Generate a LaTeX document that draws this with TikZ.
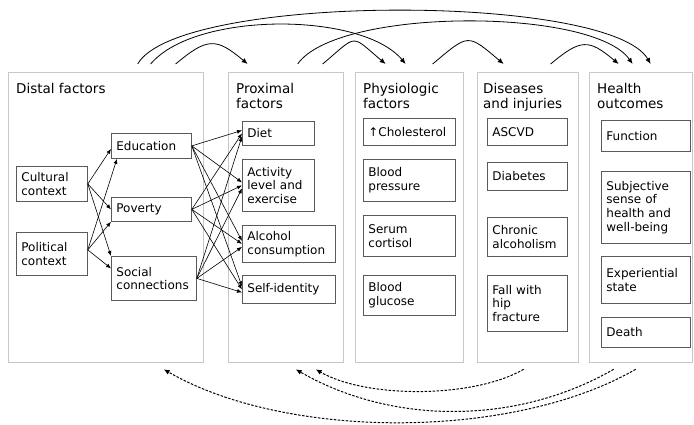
\documentclass[tikz,border=0pt]{standalone}
\usepackage{fontspec}
\setmainfont{DejaVu Sans}
\usetikzlibrary{arrows.meta}

\definecolor{panelgray}{RGB}{200,200,200}
\definecolor{itemgray}{RGB}{90,90,90}
\newcommand{\paneltitlefont}{\fontsize{13.5}{15}\selectfont}
\newcommand{\itemtextfont}{\fontsize{12}{13.6}\selectfont}

\begin{document}
\begin{tikzpicture}[
  x=1pt, y=-1pt,
  panel_box/.style={draw=panelgray, line width=1.3pt, anchor=north west, inner sep=0pt},
  panel_title/.style={anchor=north west, align=left, inner sep=0pt, font=\paneltitlefont},
  item_box/.style={draw=itemgray, line width=0.8pt, anchor=north west, align=left,
    inner xsep=5pt, inner ysep=0pt, font=\itemtextfont},
  link/.style={-{Latex[length=5pt,width=4pt]}, line width=0.6pt},
  causal_arc/.style={-{Latex[length=6pt,width=5pt]}, line width=0.8pt},
  feedback_arc/.style={-{Latex[length=6pt,width=5pt]}, line width=1pt,
    dash pattern=on 2.5pt off 1.5pt}
]
  \useasboundingbox (0,0) rectangle (694,425);

  % Panels
  \node[panel_box, minimum width=195pt, minimum height=290pt] (distal) at (8,72) {};
  \node[panel_box, minimum width=115pt, minimum height=290pt] (prox) at (228,72) {};
  \node[panel_box, minimum width=108pt, minimum height=290pt] (phys) at (355,72) {};
  \node[panel_box, minimum width=101pt, minimum height=290pt] (dis) at (477,72) {};
  \node[panel_box, minimum width=103pt, minimum height=290pt] (health) at (589,72) {};

  \node[panel_title] (distal_t) at (16,83) {Distal factors};
  \node[panel_title] (prox_t) at (236,83) {Proximal\\factors};
  \node[panel_title] (phys_t) at (363,83) {Physiologic\\factors};
  \node[panel_title] (dis_t) at (483,83) {Diseases\\and injuries};
  \node[panel_title] (health_t) at (597,83) {Health\\outcomes};

  % Distal factors
  \node[item_box, text width=61pt, minimum height=35pt] (cult) at (16,166) {Cultural\\context};
  \node[item_box, text width=61pt, minimum height=43pt] (pol) at (16,232) {Political\\context};
  \node[item_box, text width=70pt, minimum height=25pt] (edu) at (111,133) {Education};
  \node[item_box, text width=70pt, minimum height=24pt] (pov) at (111,197) {Poverty};
  \node[item_box, text width=75pt, minimum height=44pt] (soc) at (111,256) {Social\\connections};

  % Proximal factors
  \node[item_box, text width=62pt, minimum height=24pt] (diet) at (242,121) {Diet};
  \node[item_box, text width=62pt, minimum height=52pt] (act) at (242,159) {Activity\\level and\\exercise};
  \node[item_box, text width=83pt, minimum height=37pt] (alc) at (242,225) {Alcohol\\consumption};
  \node[item_box, text width=83pt, minimum height=28pt] (self) at (242,275) {Self-identity};

  % Physiologic factors
  \node[item_box, text width=82pt, minimum height=27pt] (chol) at (363,118) {↑Cholesterol};
  \node[item_box, text width=82pt, minimum height=42pt] (bp) at (363,159) {Blood\\pressure};
  \node[item_box, text width=82pt, minimum height=41pt] (cort) at (363,215) {Serum\\cortisol};
  \node[item_box, text width=82pt, minimum height=40pt] (gluc) at (363,275) {Blood\\glucose};

  % Diseases and injuries
  \node[item_box, text width=70pt, minimum height=27pt] (ascvd) at (487,118) {ASCVD};
  \node[item_box, text width=70pt, minimum height=28pt] (diab) at (487,162) {Diabetes};
  \node[item_box, text width=70pt, minimum height=39pt] (chron) at (487,217) {Chronic\\alcoholism};
  \node[item_box, text width=70pt, minimum height=56pt] (fall) at (487,275) {Fall with\\hip\\fracture};

  % Health outcomes
  \node[item_box, text width=79pt, minimum height=31pt] (func) at (601,120) {Function};
  \node[item_box, text width=79pt, minimum height=72pt] (subj) at (601,171) {Subjective\\sense of\\health and\\well-being};
  \node[item_box, text width=79pt, minimum height=47pt] (exper) at (601,256) {Experiential\\state};
  \node[item_box, text width=79pt, minimum height=30pt] (death) at (601,317) {Death};

  % Links inside distal factors
  \draw[link] (cult.east) -- ([yshift=-3pt]edu.west);
  \draw[link] (cult.east) -- (pov.west);
  \draw[link] (cult.east) -- (soc.north west);
  \draw[link] ([yshift=4pt]pol.east) -- ([xshift=6pt]edu.south west);
  \draw[link] ([yshift=4pt]pol.east) -- (pov.south west);
  \draw[link] ([yshift=4pt]pol.east) -- ([yshift=10pt]soc.west);

  % Distal to proximal links
  \foreach \src/\dy in {edu/3, pov/0, soc/-3}
    \foreach \dst in {diet, act, alc, self}
      \draw[link] (\src.east) -- ([yshift=\dy pt]\dst.west);

  % Arcs between panels
  \draw[causal_arc] ([xshift=69.5pt,yshift=8pt]distal.north)
    to[out=40, in=140, looseness=1.47] ([xshift=-38.5pt,yshift=8pt]prox.north);
  \draw[causal_arc] ([xshift=44.5pt,yshift=8pt]distal.north)
    to[out=50, in=130, looseness=0.69] ([xshift=-4pt,yshift=8pt]phys.north);
  \draw[causal_arc] ([xshift=31.5pt,yshift=8pt]distal.north)
    to[out=60, in=120, looseness=0.41] ([xshift=9.5pt,yshift=8pt]health.north);
  \draw[causal_arc] ([xshift=11.5pt,yshift=8pt]prox.north)
    to[out=55, in=125, looseness=0.53] ([xshift=-8.5pt,yshift=8pt]health.north);
  \draw[causal_arc] ([xshift=36.5pt,yshift=8pt]prox.north)
    to[out=40, in=140, looseness=1.9] ([xshift=-24pt,yshift=8pt]phys.north);
  \draw[causal_arc] ([xshift=23pt,yshift=8pt]phys.north)
    to[out=40, in=140, looseness=1.72] ([xshift=-24.5pt,yshift=8pt]dis.north);
  \draw[causal_arc] ([xshift=22.5pt,yshift=8pt]dis.north)
    to[out=40, in=140, looseness=1.48] ([xshift=-22.5pt,yshift=8pt]health.north);

  % Feedback arcs
  \draw[feedback_arc] ([xshift=-4.5pt,yshift=-6pt]dis.south)
    to[out=-150, in=-30, looseness=0.72] ([xshift=29.5pt,yshift=-6pt]prox.south);
  \draw[feedback_arc] ([xshift=-27.5pt,yshift=-6pt]health.south)
    to[out=-150, in=-30, looseness=0.9] ([xshift=9.5pt,yshift=-6pt]prox.south);
  \draw[feedback_arc] ([xshift=-5.5pt,yshift=-6pt]health.south)
    to[out=-150, in=-30, looseness=0.77] ([xshift=57.5pt,yshift=-6pt]distal.south);

\end{tikzpicture}
\end{document}
